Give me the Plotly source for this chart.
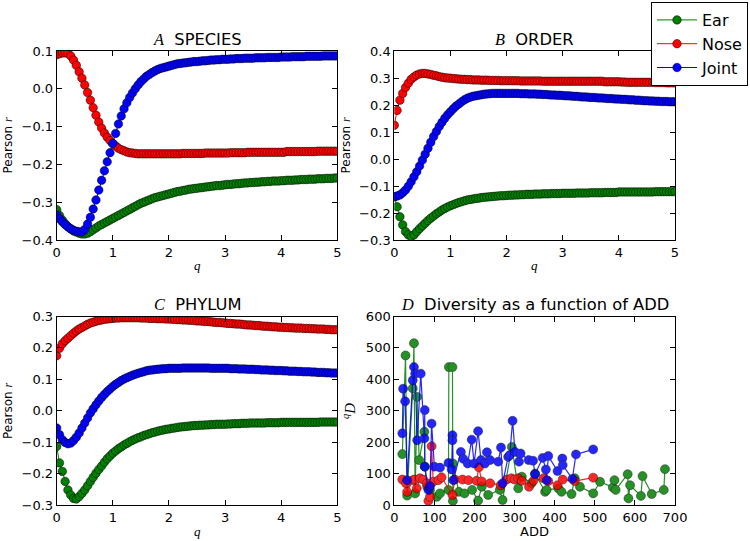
import plotly.graph_objects as go

# ---------------- data ----------------
Q = [round(i * 0.05, 2) for i in range(101)]

A_ear = [-0.320, -0.335, -0.347, -0.357, -0.365, -0.371, -0.376, -0.379, -0.382, -0.384,
         -0.384, -0.382, -0.378, -0.373, -0.368, -0.363, -0.359, -0.355, -0.351, -0.347,
         -0.343, -0.339, -0.335, -0.331, -0.327, -0.323, -0.319, -0.315, -0.311, -0.307,
         -0.303, -0.300, -0.297, -0.294, -0.291, -0.288, -0.286, -0.284, -0.282, -0.280,
         -0.278, -0.276, -0.274, -0.272, -0.271, -0.269, -0.268, -0.266, -0.265, -0.264,
         -0.263, -0.262, -0.261, -0.260, -0.259, -0.258, -0.257, -0.256, -0.256, -0.255,
         -0.254, -0.253, -0.253, -0.252, -0.251, -0.251, -0.250, -0.249, -0.249, -0.248,
         -0.248, -0.247, -0.247, -0.246, -0.246, -0.245, -0.245, -0.244, -0.244, -0.244,
         -0.243, -0.243, -0.242, -0.242, -0.242, -0.241, -0.241, -0.240, -0.240, -0.240,
         -0.239, -0.239, -0.239, -0.238, -0.238, -0.238, -0.237, -0.237, -0.237, -0.236,
         -0.236]
A_nose = [0.090, 0.093, 0.095, 0.095, 0.094, 0.087, 0.076, 0.062, 0.045, 0.028,
          0.010, -0.010, -0.030, -0.050, -0.070, -0.088, -0.104, -0.117, -0.128, -0.137,
          -0.145, -0.151, -0.157, -0.161, -0.164, -0.167, -0.169, -0.170, -0.171, -0.172,
          -0.172, -0.172, -0.172, -0.172, -0.172, -0.172, -0.172, -0.172, -0.172, -0.172,
          -0.172, -0.172, -0.172, -0.172, -0.172, -0.171, -0.171, -0.171, -0.171, -0.171,
          -0.171, -0.171, -0.171, -0.170, -0.170, -0.170, -0.170, -0.170, -0.170, -0.170,
          -0.170, -0.170, -0.169, -0.169, -0.169, -0.169, -0.169, -0.169, -0.168, -0.168,
          -0.168, -0.168, -0.168, -0.168, -0.168, -0.168, -0.168, -0.168, -0.168, -0.168,
          -0.168, -0.168, -0.166, -0.166, -0.166, -0.166, -0.166, -0.166, -0.166, -0.166,
          -0.166, -0.166, -0.166, -0.165, -0.165, -0.165, -0.165, -0.165, -0.165, -0.165,
          -0.165]
A_joint = [-0.334, -0.344, -0.352, -0.359, -0.365, -0.370, -0.374, -0.377, -0.378, -0.379,
           -0.372, -0.358, -0.340, -0.318, -0.294, -0.268, -0.242, -0.217, -0.193, -0.169,
           -0.145, -0.118, -0.093, -0.072, -0.053, -0.037, -0.023, -0.011, 0.000, 0.010,
           0.019, 0.026, 0.033, 0.038, 0.043, 0.047, 0.051, 0.054, 0.056, 0.058,
           0.060, 0.062, 0.064, 0.066, 0.067, 0.068, 0.069, 0.070, 0.071, 0.072,
           0.072, 0.073, 0.074, 0.074, 0.075, 0.076, 0.076, 0.077, 0.077, 0.078,
           0.078, 0.078, 0.079, 0.079, 0.080, 0.080, 0.080, 0.081, 0.081, 0.081,
           0.081, 0.082, 0.082, 0.082, 0.082, 0.083, 0.083, 0.083, 0.083, 0.083,
           0.084, 0.084, 0.084, 0.084, 0.085, 0.085, 0.085, 0.085, 0.085, 0.086,
           0.086, 0.086, 0.086, 0.086, 0.086, 0.087, 0.087, 0.087, 0.087, 0.087,
           0.087]

B_ear = [-0.140, -0.177, -0.214, -0.244, -0.269, -0.281, -0.288, -0.281, -0.269, -0.258,
         -0.248, -0.238, -0.228, -0.219, -0.211, -0.203, -0.196, -0.189, -0.183, -0.178,
         -0.173, -0.169, -0.165, -0.161, -0.158, -0.155, -0.152, -0.150, -0.148, -0.146,
         -0.145, -0.143, -0.142, -0.141, -0.140, -0.139, -0.138, -0.137, -0.136, -0.136,
         -0.135, -0.134, -0.134, -0.133, -0.133, -0.132, -0.132, -0.131, -0.131, -0.131,
         -0.130, -0.130, -0.130, -0.129, -0.129, -0.129, -0.128, -0.128, -0.128, -0.128,
         -0.127, -0.127, -0.127, -0.127, -0.127, -0.126, -0.126, -0.126, -0.126, -0.126,
         -0.125, -0.125, -0.125, -0.125, -0.125, -0.124, -0.124, -0.124, -0.124, -0.124,
         -0.122, -0.122, -0.122, -0.122, -0.122, -0.122, -0.122, -0.122, -0.122, -0.122,
         -0.122, -0.122, -0.122, -0.121, -0.121, -0.121, -0.121, -0.121, -0.121, -0.121,
         -0.121]
B_nose = [0.125, 0.180, 0.218, 0.243, 0.265, 0.281, 0.295, 0.304, 0.311, 0.315,
          0.317, 0.317, 0.315, 0.313, 0.310, 0.308, 0.305, 0.303, 0.301, 0.300,
          0.299, 0.298, 0.297, 0.296, 0.295, 0.295, 0.294, 0.294, 0.293, 0.293,
          0.293, 0.292, 0.292, 0.292, 0.291, 0.291, 0.291, 0.291, 0.290, 0.290,
          0.290, 0.290, 0.290, 0.290, 0.290, 0.289, 0.289, 0.289, 0.289, 0.289,
          0.289, 0.289, 0.289, 0.288, 0.288, 0.288, 0.288, 0.288, 0.288, 0.288,
          0.288, 0.288, 0.288, 0.288, 0.288, 0.288, 0.288, 0.288, 0.288, 0.288,
          0.288, 0.288, 0.288, 0.288, 0.288, 0.286, 0.286, 0.286, 0.286, 0.286,
          0.286, 0.285, 0.285, 0.284, 0.284, 0.284, 0.284, 0.284, 0.284, 0.284,
          0.284, 0.284, 0.284, 0.283, 0.283, 0.283, 0.283, 0.282, 0.282, 0.282,
          0.282]
B_joint = [-0.140, -0.137, -0.133, -0.125, -0.115, -0.101, -0.084, -0.066, -0.047, -0.026,
           -0.004, 0.018, 0.040, 0.062, 0.083, 0.102, 0.120, 0.136, 0.151, 0.164,
           0.175, 0.186, 0.196, 0.204, 0.212, 0.219, 0.225, 0.229, 0.232, 0.234,
           0.236, 0.238, 0.240, 0.241, 0.242, 0.243, 0.243, 0.243, 0.243, 0.243,
           0.243, 0.243, 0.243, 0.243, 0.243, 0.242, 0.242, 0.242, 0.241, 0.241,
           0.241, 0.240, 0.240, 0.239, 0.239, 0.238, 0.237, 0.237, 0.236, 0.236,
           0.235, 0.234, 0.234, 0.233, 0.232, 0.232, 0.231, 0.230, 0.230, 0.229,
           0.228, 0.228, 0.227, 0.226, 0.226, 0.225, 0.224, 0.224, 0.223, 0.222,
           0.222, 0.221, 0.221, 0.220, 0.219, 0.219, 0.218, 0.218, 0.217, 0.216,
           0.216, 0.215, 0.215, 0.214, 0.214, 0.213, 0.213, 0.213, 0.212, 0.212,
           0.212]

C_ear = [-0.114, -0.166, -0.193, -0.225, -0.252, -0.268, -0.279, -0.281, -0.273, -0.263,
         -0.252, -0.239, -0.225, -0.212, -0.199, -0.187, -0.176, -0.164, -0.153, -0.144,
         -0.135, -0.128, -0.121, -0.115, -0.109, -0.104, -0.099, -0.094, -0.090, -0.086,
         -0.083, -0.079, -0.076, -0.073, -0.070, -0.068, -0.065, -0.063, -0.061, -0.059,
         -0.058, -0.056, -0.055, -0.053, -0.052, -0.051, -0.050, -0.049, -0.048, -0.047,
         -0.047, -0.046, -0.046, -0.045, -0.045, -0.044, -0.044, -0.043, -0.043, -0.043,
         -0.043, -0.042, -0.042, -0.041, -0.041, -0.041, -0.040, -0.040, -0.040, -0.039,
         -0.039, -0.039, -0.039, -0.039, -0.039, -0.038, -0.038, -0.038, -0.038, -0.038,
         -0.037, -0.037, -0.037, -0.037, -0.037, -0.037, -0.037, -0.037, -0.037, -0.037,
         -0.037, -0.037, -0.037, -0.037, -0.036, -0.036, -0.036, -0.036, -0.036, -0.036,
         -0.036]
C_nose = [0.175, 0.199, 0.213, 0.223, 0.231, 0.239, 0.247, 0.254, 0.260, 0.265,
          0.270, 0.275, 0.279, 0.282, 0.285, 0.287, 0.289, 0.291, 0.292, 0.293,
          0.294, 0.295, 0.295, 0.296, 0.296, 0.296, 0.296, 0.296, 0.296, 0.296,
          0.295, 0.295, 0.295, 0.294, 0.294, 0.294, 0.293, 0.293, 0.293, 0.292,
          0.292, 0.291, 0.291, 0.290, 0.290, 0.289, 0.289, 0.288, 0.288, 0.287,
          0.286, 0.286, 0.285, 0.284, 0.284, 0.283, 0.282, 0.281, 0.281, 0.280,
          0.279, 0.278, 0.278, 0.277, 0.276, 0.276, 0.275, 0.274, 0.273, 0.273,
          0.272, 0.271, 0.271, 0.270, 0.269, 0.269, 0.268, 0.267, 0.267, 0.266,
          0.266, 0.265, 0.265, 0.264, 0.264, 0.263, 0.263, 0.263, 0.262, 0.262,
          0.262, 0.261, 0.261, 0.260, 0.260, 0.260, 0.259, 0.259, 0.258, 0.258,
          0.258]
C_joint = [-0.055, -0.076, -0.092, -0.101, -0.105, -0.103, -0.095, -0.084, -0.071, -0.055,
           -0.039, -0.023, -0.007, 0.006, 0.019, 0.031, 0.042, 0.052, 0.061, 0.069,
           0.077, 0.084, 0.090, 0.096, 0.101, 0.105, 0.109, 0.113, 0.116, 0.119,
           0.122, 0.124, 0.127, 0.129, 0.130, 0.131, 0.132, 0.133, 0.134, 0.134,
           0.135, 0.135, 0.135, 0.135, 0.135, 0.136, 0.136, 0.136, 0.136, 0.136,
           0.136, 0.136, 0.136, 0.136, 0.136, 0.135, 0.135, 0.135, 0.135, 0.135,
           0.135, 0.135, 0.134, 0.134, 0.134, 0.133, 0.133, 0.133, 0.132, 0.132,
           0.132, 0.131, 0.131, 0.130, 0.130, 0.130, 0.129, 0.129, 0.128, 0.128,
           0.128, 0.127, 0.127, 0.126, 0.126, 0.126, 0.125, 0.125, 0.124, 0.124,
           0.124, 0.123, 0.123, 0.122, 0.122, 0.122, 0.121, 0.121, 0.120, 0.120,
           0.120]

# Panel D: ADD vs diversity
D_ear_add = [20, 28, 32, 46, 49, 52, 57, 62, 75, 76, 82, 89, 106, 114, 135, 136, 145, 146, 146,
             161, 175, 194, 209, 218, 234, 263, 270, 293, 309, 318, 342, 351, 376, 380, 409,
             417, 442, 450, 463, 496, 513, 545, 549, 552, 582, 584, 588, 615, 619, 642, 672, 675]
D_ear_val = [162, 476, 30, 371, 515, 37, 344, 143, 233, 122, 58, 48, 26, 37, 48, 439, 439, 13, 132,
             42, 37, 48, 14, 58, 32, 48, 16, 185, 53, 90, 69, 100, 42, 48, 53,
             42, 35, 85, 58, 37, 74, 56, 79, 48, 98, 21, 63, 29, 92, 35, 48, 114]

D_nose_add = [20, 29, 32, 47, 50, 56, 64, 72, 81, 85, 89, 93, 97, 110, 118, 145, 151, 170, 185,
              205, 211, 218, 239, 265, 280, 292, 300, 309, 318, 336, 347, 372, 384, 407, 420,
              450, 496]
D_nose_val = [81, 69, 42, 79, 81, 53, 85, 81, 69, 13, 26, 187, 74, 79, 88, 32, 81, 81, 79,
              77, 120, 75, 69, 63, 81, 85, 81, 85, 77, 58, 77, 85, 76, 63, 81,
              76, 87]

D_joint_add = [20, 22, 27, 32, 46, 49, 52, 57, 66, 75, 76, 76, 85, 89, 93, 100, 114, 135, 143,
               145, 145, 147, 166, 172, 183, 193, 199, 209, 216, 226, 231, 239, 259, 266, 270,
               284, 288, 295, 301, 311, 315, 335, 346, 351, 370, 378, 380, 384, 407, 419, 420,
               444, 453, 496]
D_joint_val = [228, 370, 330, 79, 397, 439, 418, 206, 418, 212, 302, 122, 48, 60, 259, 122, 119, 134, 113,
               222, 206, 79, 169, 147, 132, 208, 132, 235, 143, 132, 168, 143, 138, 183, 69,
               153, 159, 268, 169, 138, 164, 143, 141, 98, 150, 113, 79, 156, 108, 148, 127,
               83, 161, 177]

SERIES = ["Ear", "Nose", "Joint"]
COLORS = {"Ear": "#007f00", "Nose": "#ff0000", "Joint": "#0000ff"}

# ---------------- figure ----------------
W, H = 750, 541


def px_x(a, b):
    return [a / W, b / W]


def px_y(top, bottom):
    return [1 - bottom / H, 1 - top / H]


panels = {
    1: dict(x=px_x(56.7, 337.3), y=px_y(51, 240)),
    2: dict(x=px_x(394.3, 675), y=px_y(51, 240)),
    3: dict(x=px_x(56.7, 337.3), y=px_y(316.5, 505)),
    4: dict(x=px_x(394.3, 675), y=px_y(316.5, 505)),
}

fig = go.Figure()

curve_data = {
    1: {"Ear": A_ear, "Nose": A_nose, "Joint": A_joint},
    2: {"Ear": B_ear, "Nose": B_nose, "Joint": B_joint},
    3: {"Ear": C_ear, "Nose": C_nose, "Joint": C_joint},
}

for p in (1, 2, 3):
    sfx = "" if p == 1 else str(p)
    for s in SERIES:
        fig.add_trace(go.Scatter(
            x=Q, y=curve_data[p][s], mode="lines+markers", name=s,
            showlegend=(p == 2),
            line=dict(color=COLORS[s], width=1),
            marker=dict(symbol="circle", size=8.5, color=COLORS[s],
                        line=dict(color="black", width=0.5)),
            xaxis="x" + sfx, yaxis="y" + sfx,
        ))

d_data = {
    "Ear": (D_ear_add, D_ear_val),
    "Nose": (D_nose_add, D_nose_val),
    "Joint": (D_joint_add, D_joint_val),
}
for s in SERIES:
    xs, ys = d_data[s]
    pairs = sorted(zip(xs, ys), key=lambda t: t[0])
    fig.add_trace(go.Scatter(
        x=[a for a, _ in pairs], y=[b for _, b in pairs], mode="lines+markers", name=s,
        showlegend=False, opacity=0.85,
        line=dict(color=COLORS[s], width=1.2),
        marker=dict(symbol="circle", size=9, color=COLORS[s],
                    line=dict(color="black", width=0.5)),
        xaxis="x4", yaxis="y4",
    ))

tick_font = dict(family="DejaVu Sans", size=13, color="black")


def axis(domain, rng, dtick, fmt=None, anchor=None):
    d = dict(domain=domain, range=rng, dtick=dtick, tick0=0, showline=True,
             linecolor="black", linewidth=1, mirror="allticks", ticks="inside",
             ticklen=5, tickcolor="black", tickwidth=0.8, showgrid=False, zeroline=False,
             tickfont=tick_font, anchor=anchor, automargin=False)
    if fmt:
        d["tickformat"] = fmt
    return d


fig.update_layout(
    width=W, height=H, margin=dict(l=0, r=0, t=0, b=0, autoexpand=False),
    paper_bgcolor="white", plot_bgcolor="white",
    xaxis=axis(panels[1]["x"], [0, 5], 1, anchor="y"),
    yaxis=axis(panels[1]["y"], [-0.4, 0.1], 0.1, ".1f", anchor="x"),
    xaxis2=axis(panels[2]["x"], [0, 5], 1, anchor="y2"),
    yaxis2=axis(panels[2]["y"], [-0.3, 0.4], 0.1, ".1f", anchor="x2"),
    xaxis3=axis(panels[3]["x"], [0, 5], 1, anchor="y3"),
    yaxis3=axis(panels[3]["y"], [-0.3, 0.3], 0.1, ".1f", anchor="x3"),
    xaxis4=axis(panels[4]["x"], [0, 700], 100, anchor="y4"),
    yaxis4=axis(panels[4]["y"], [0, 600], 100, anchor="x4"),
    legend=dict(x=748 / W, y=1 - 2 / H, xanchor="right", yanchor="top",
                bordercolor="black", borderwidth=1, bgcolor="white",
                font=dict(family="DejaVu Sans", size=16, color="black"),
                tracegroupgap=0, itemwidth=40),
)

SERIF = "font-family:'Liberation Serif'"
ann = []
titles = [
    (197, 39, f"<span style=\"{SERIF}\"><i>A</i></span>  SPECIES"),
    (534.6, 39, f"<span style=\"{SERIF}\"><i>B</i></span>  ORDER"),
    (197, 304, f"<span style=\"{SERIF}\"><i>C</i></span>  PHYLUM"),
    (534.6, 304, f"<span style=\"{SERIF}\"><i>D</i></span>  Diversity as a function of ADD"),
]
for x, y, t in titles:
    ann.append(dict(x=x / W, y=1 - y / H, xref="paper", yref="paper", text=t,
                    showarrow=False, xanchor="center", yanchor="middle",
                    font=dict(family="DejaVu Sans", size=16.3, color="black")))

xtitles = [(197, 265, f"<span style=\"{SERIF}\"><i>q</i></span>"),
           (534.6, 265, f"<span style=\"{SERIF}\"><i>q</i></span>"),
           (197, 531, f"<span style=\"{SERIF}\"><i>q</i></span>"),
           (534.6, 531, "ADD")]
for x, y, t in xtitles:
    ann.append(dict(x=x / W, y=1 - y / H, xref="paper", yref="paper", text=t,
                    showarrow=False, xanchor="center", yanchor="middle",
                    font=dict(family="DejaVu Sans", size=13, color="black")))

ytitles = [(8, 145.5, f"Pearson <span style=\"{SERIF}\"><i>r</i></span>", 12),
           (346, 145.5, f"Pearson <span style=\"{SERIF}\"><i>r</i></span>", 12),
           (8, 411, f"Pearson <span style=\"{SERIF}\"><i>r</i></span>", 12),
           (349, 411, f"<span style=\"{SERIF}\"><i><sup>q</sup>D</i></span>", 15)]
for x, y, t, fs in ytitles:
    ann.append(dict(x=x / W, y=1 - y / H, xref="paper", yref="paper", text=t,
                    showarrow=False, xanchor="center", yanchor="middle", textangle=-90,
                    font=dict(family="DejaVu Sans", size=fs, color="black")))

fig.update_layout(annotations=ann)

fig.write_html("out.html", config={"displayModeBar": False},
               post_script="document.body.style.margin='0';document.body.style.overflow='hidden';")
